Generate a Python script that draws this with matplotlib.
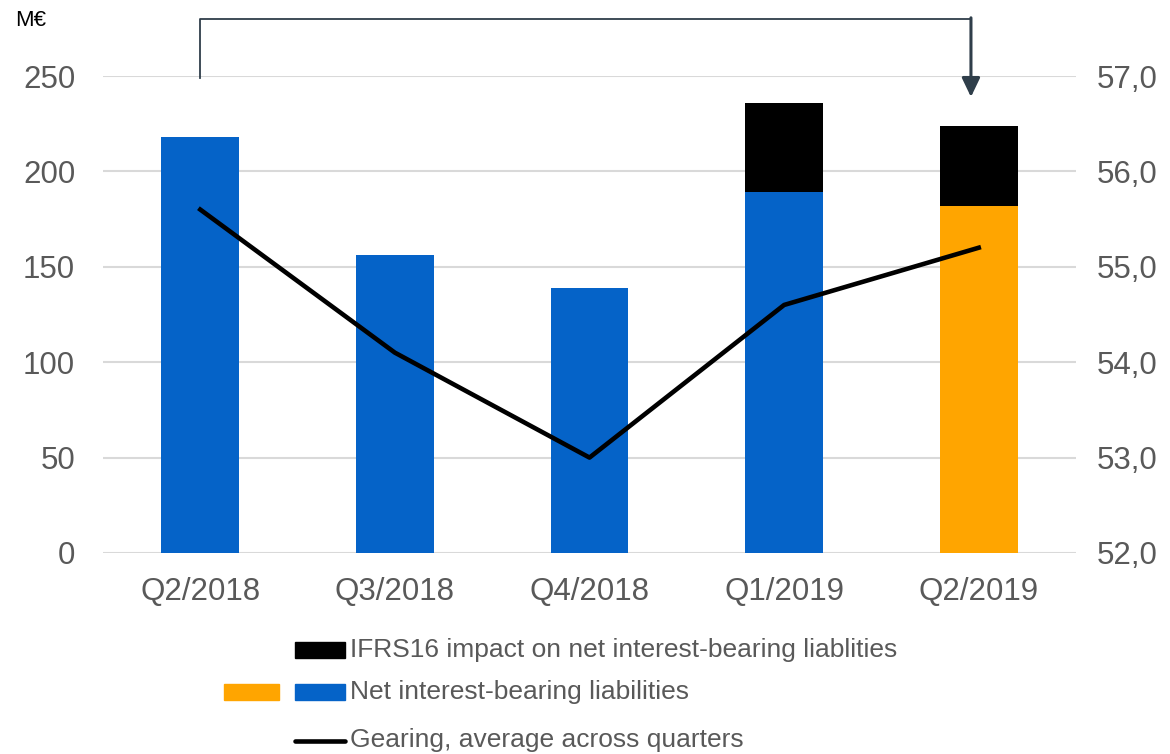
import numpy as np
import matplotlib.pyplot as plt
from matplotlib.patches import Rectangle
from matplotlib.lines import Line2D

plt.rcParams['font.family'] = ['Liberation Sans', 'DejaVu Sans']

quarters = ["Q2/2018", "Q3/2018", "Q4/2018", "Q1/2019", "Q2/2019"]
net_liab = [218, 156, 139, 189, 182]
ifrs16 = [0, 0, 0, 47, 42]
gearing = [55.6, 54.1, 53.0, 54.6, 55.2]
left_ticks = [0, 50, 100, 150, 200, 250]
right_ticks = [52.0, 53.0, 54.0, 55.0, 56.0, 57.0]

blue = "#0563C8"
orange = "#FFA500"
gray_txt = "#595959"
grid_col = "#D9D9D9"

fig = plt.figure(figsize=(11.7, 7.54), dpi=100)
ax = fig.add_axes([0.088, 0.2666, 0.8317, 0.6326])

x = np.arange(len(quarters))
bar_colors = [blue, blue, blue, blue, orange]
ax.bar(x, net_liab, width=0.4, color=bar_colors, zorder=2)
ax.bar(x, ifrs16, width=0.4, bottom=net_liab, color="black", zorder=2)

ax.set_xlim(-0.5, 4.5)
ax.set_ylim(0, 250)
ax.set_yticks(left_ticks)
ax.set_xticks(x)
ax.set_xticklabels(quarters)
ax.yaxis.grid(True, color=grid_col, linewidth=1.5, zorder=0)
ax.set_axisbelow(True)
for s in ax.spines.values():
    s.set_visible(False)
ax.tick_params(axis='y', length=0, pad=20, labelsize=22.5, labelcolor=gray_txt)
ax.tick_params(axis='x', length=0, pad=17, labelsize=22.5, labelcolor=gray_txt)

ax2 = ax.twinx()
ax2.plot(x, gearing, color="black", linewidth=3.3, zorder=3)
ax2.set_ylim(52, 57)
ax2.set_yticks(right_ticks)
ax2.set_yticklabels([f"{v:.1f}".replace(".", ",") for v in right_ticks])
for s in ax2.spines.values():
    s.set_visible(False)
ax2.tick_params(axis='y', length=0, pad=15, labelsize=22.5, labelcolor=gray_txt)

# bracket arrow from Q2/2018 to Q2/2019
br_col = "#2F3E4A"
ax.plot([0, 0, 3.96], [249, 280, 280], color=br_col, linewidth=1.3, clip_on=False, zorder=4)
ax.annotate("", xy=(3.96, 239), xytext=(3.96, 280.5),
            arrowprops=dict(arrowstyle="-|>,head_length=1.15,head_width=0.55",
                            color=br_col, linewidth=2.2, shrinkA=0, shrinkB=0),
            annotation_clip=False)

fig.text(15 / 1170, 1 - 20 / 754, "M€", fontsize=16, color="black", va="center", ha="left")

# custom legend
W, H = 1170, 754
def fx(px):
    return px / W
def fy(py):
    return 1 - py / H

leg_fs = 19
fig.patches.append(Rectangle((fx(295), fy(658)), fx(50), 16 / H, color="black", transform=fig.transFigure))
fig.text(fx(350), fy(650), "IFRS16 impact on net interest-bearing liablities", fontsize=leg_fs,
         color=gray_txt, va="center", ha="left")
fig.patches.append(Rectangle((fx(224), fy(700)), fx(55), 16 / H, color=orange, transform=fig.transFigure))
fig.patches.append(Rectangle((fx(295), fy(700)), fx(50), 16 / H, color=blue, transform=fig.transFigure))
fig.text(fx(350), fy(692), "Net interest-bearing liabilities", fontsize=leg_fs,
         color=gray_txt, va="center", ha="left")
fig.lines.append(Line2D([fx(295), fx(345)], [fy(741), fy(741)], color="black", linewidth=3.3,
                        solid_capstyle="round", transform=fig.transFigure))
fig.text(fx(350), fy(740), "Gearing, average across quarters", fontsize=leg_fs,
         color=gray_txt, va="center", ha="left")

fig.savefig("out.png", dpi=100)
